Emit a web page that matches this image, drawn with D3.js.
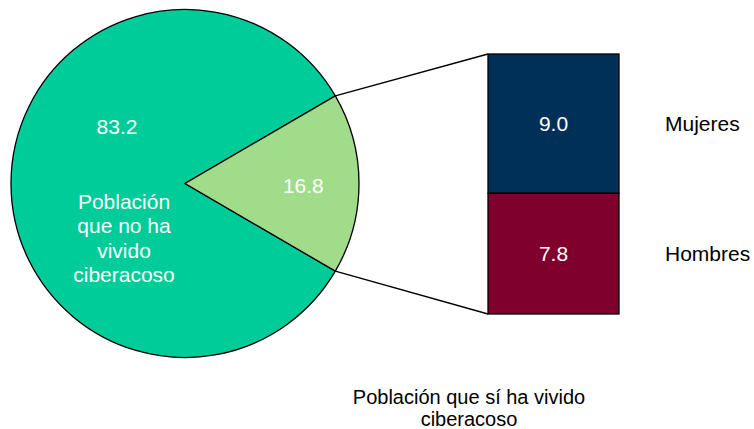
<!DOCTYPE html>
<html>
<head>
<meta charset="utf-8">
<script src="https://cdn.jsdelivr.net/npm/d3@7"></script>
<style>
  body { margin: 0; background: #fff; }
  text { font-family: Arial, "Liberation Sans", sans-serif; }
</style>
</head>
<body>
<div id="chart"></div>
<script>
// Datos
var pie_labels  = ['Población que no ha vivido ciberacoso', 'Población que sí ha vivido ciberacoso'];
var pie_values  = [83.2, 16.8];
var pie_colors  = ['#00CC99', '#A0DC8A'];
var bar_labels  = ['Mujeres', 'Hombres'];
var bar_values  = [9.0, 7.8];
var bar_colors  = ['#003057', '#7F002D'];

var chart_width  = 754;
var chart_height = 429;
var svg = d3.select('#chart')
    .append('svg')
    .attr('width', chart_width)
    .attr('height', chart_height);

// Pastel
var cx = 185, cy = 183.5, radius = 174;
var total = d3.sum(pie_values);
var small_angle = 2 * Math.PI * pie_values[1] / total;
var start = Math.PI / 2 + small_angle / 2;

var pie = d3.pie()
    .sort(null)
    .startAngle(start)
    .endAngle(start + 2 * Math.PI);
var arcs = pie(pie_values);

var arc = d3.arc().innerRadius(0).outerRadius(radius);
var label_arc = d3.arc().innerRadius(radius * 0.68).outerRadius(radius * 0.68);

var g = svg.append('g').attr('transform', 'translate(' + cx + ',' + cy + ')');

g.selectAll('path')
    .data(arcs)
    .enter()
    .append('path')
    .attr('d', arc)
    .attr('fill', function(d, i){ return pie_colors[i]; })
    .attr('stroke', '#000')
    .attr('stroke-width', 1.3)
    .attr('stroke-linejoin', 'miter');

// rotulo del segmento grande
g.append('text')
    .text(pie_values[0].toFixed(1))
    .attr('x', -68)
    .attr('y', -50)
    .attr('font-size', 21)
    .attr('fill', '#fff')
    .attr('text-anchor', 'middle');

var desc = g.append('text')
    .attr('font-size', 21)
    .attr('fill', '#fff')
    .attr('text-anchor', 'middle');
['Población', 'que no ha', 'vivido', 'ciberacoso'].forEach(function(t, i){
    desc.append('tspan').attr('x', -61).attr('y', 25 + i * 24.5).text(t);
});

// rotulo del segmento pequeno
g.append('text')
    .text(pie_values[1].toFixed(1))
    .attr('x', label_arc.centroid(arcs[1])[0])
    .attr('y', label_arc.centroid(arcs[1])[1] + 9)
    .attr('font-size', 21)
    .attr('fill', '#fff')
    .attr('text-anchor', 'middle');

// Barra apilada
var bar_x = 488, bar_w = 131;
var y_scale = d3.scaleLinear()
    .domain([0, d3.sum(bar_values)])
    .range([314, 54]);

// Hombres abajo, Mujeres arriba
var stacked = [];
var acc = 0;
for (var i = bar_values.length - 1; i >= 0; i--) {
    stacked[i] = { y0: acc, y1: acc + bar_values[i], v: bar_values[i], label: bar_labels[i], color: bar_colors[i] };
    acc += bar_values[i];
}

// Lineas de conexion
var p1 = arcs[1];
var top_pt = [cx + radius * Math.sin(p1.startAngle), cy - radius * Math.cos(p1.startAngle)];
var bot_pt = [cx + radius * Math.sin(p1.endAngle), cy - radius * Math.cos(p1.endAngle)];
svg.append('line')
    .attr('x1', top_pt[0]).attr('y1', top_pt[1])
    .attr('x2', bar_x).attr('y2', y_scale(acc))
    .attr('stroke', '#000').attr('stroke-width', 1.3);
svg.append('line')
    .attr('x1', bot_pt[0]).attr('y1', bot_pt[1])
    .attr('x2', bar_x).attr('y2', y_scale(0))
    .attr('stroke', '#000').attr('stroke-width', 1.3);

svg.selectAll('rect.seg')
    .data(stacked)
    .enter()
    .append('rect')
    .attr('class', 'seg')
    .attr('x', bar_x)
    .attr('y', function(d){ return y_scale(d.y1); })
    .attr('width', bar_w)
    .attr('height', function(d){ return y_scale(d.y0) - y_scale(d.y1); })
    .attr('fill', function(d){ return d.color; })
    .attr('stroke', '#000')
    .attr('stroke-width', 1.3);

svg.selectAll('text.val')
    .data(stacked)
    .enter()
    .append('text')
    .attr('class', 'val')
    .text(function(d){ return d.v.toFixed(1); })
    .attr('x', bar_x + bar_w / 2)
    .attr('y', function(d){ return y_scale((d.y0 + d.y1) / 2) + 7; })
    .attr('font-size', 21)
    .attr('fill', '#fff')
    .attr('text-anchor', 'middle');

svg.selectAll('text.cat')
    .data(stacked)
    .enter()
    .append('text')
    .attr('class', 'cat')
    .text(function(d){ return d.label; })
    .attr('x', 665)
    .attr('y', function(d){ return y_scale((d.y0 + d.y1) / 2) + 7; })
    .attr('font-size', 21)
    .attr('fill', '#000');

// Titulo inferior
var title = svg.append('text')
    .attr('font-size', 20)
    .attr('fill', '#000')
    .attr('text-anchor', 'middle');
title.append('tspan').attr('x', 469).attr('y', 404).text('Población que sí ha vivido');
title.append('tspan').attr('x', 469).attr('y', 426).text('ciberacoso');
</script>
</body>
</html>
